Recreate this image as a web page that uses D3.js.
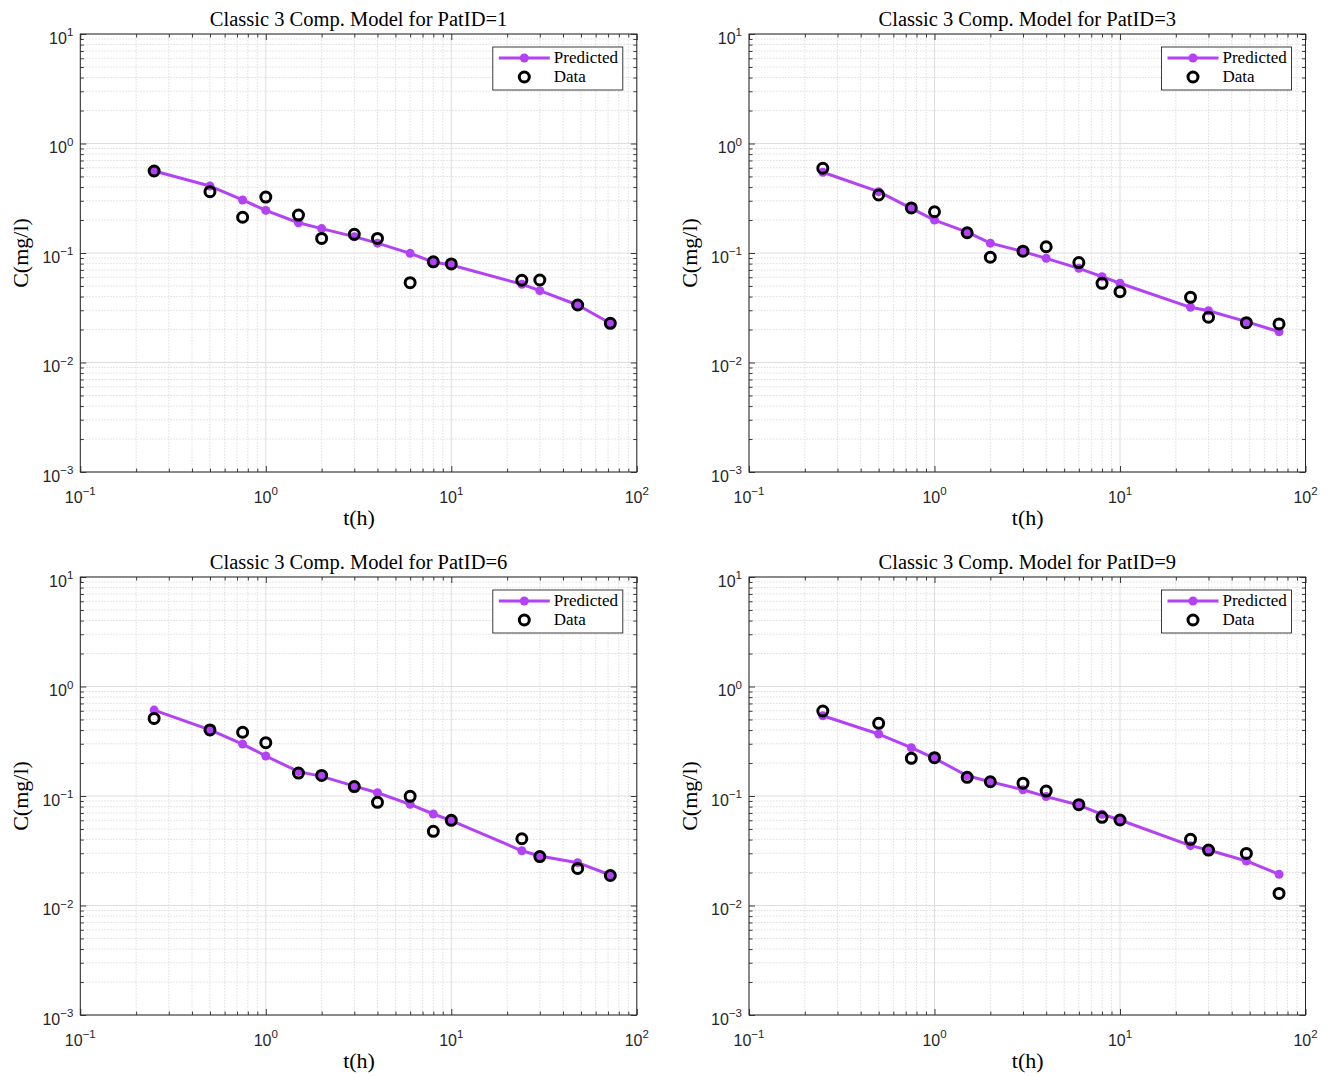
<!DOCTYPE html>
<html>
<head>
<meta charset="utf-8">
<script src="https://cdn.jsdelivr.net/npm/d3@7/dist/d3.min.js"></script>
<style>
  html, body { margin: 0; padding: 0; background: #fff; }
  svg { display: block; }
</style>
</head>
<body>
<svg id="chart" width="1333" height="1076"></svg>
<script>
// Sampling times (h)
const times = [0.25, 0.5, 0.75, 1, 1.5, 2, 3, 4, 6, 8, 10, 24, 30, 48, 72];

// Patient IDs shown
const patIds = [1, 3, 6, 9];

// Model predictions C(mg/l) per patient
const predP1 = [0.561, 0.409, 0.305, 0.245, 0.189, 0.167, 0.141, 0.123, 0.0993, 0.0827, 0.0777, 0.0518, 0.0453, 0.0335, 0.0228];
const predP3 = [0.546, 0.363, 0.256, 0.200, 0.155, 0.123, 0.103, 0.0894, 0.0724, 0.0608, 0.0529, 0.0319, 0.0297, 0.0236, 0.0191];
const predP6 = [0.609, 0.401, 0.298, 0.232, 0.167, 0.151, 0.123, 0.107, 0.0839, 0.0685, 0.0595, 0.0316, 0.0283, 0.0246, 0.0190];
const predP9 = [0.541, 0.368, 0.276, 0.221, 0.153, 0.135, 0.114, 0.0987, 0.0827, 0.0681, 0.0604, 0.0352, 0.0321, 0.0255, 0.0193];

// Observed concentrations C(mg/l) per patient
const obsP1 = [0.561, 0.363, 0.212, 0.324, 0.222, 0.136, 0.148, 0.136, 0.0536, 0.083, 0.0794, 0.0564, 0.0567, 0.0335, 0.0228];
const obsP3 = [0.594, 0.339, 0.258, 0.238, 0.153, 0.0914, 0.104, 0.114, 0.0817, 0.0529, 0.0443, 0.0394, 0.0259, 0.0231, 0.0225];
const obsP6 = [0.511, 0.401, 0.382, 0.307, 0.162, 0.154, 0.122, 0.0875, 0.0993, 0.0476, 0.060, 0.0407, 0.0280, 0.0218, 0.0188];
const obsP9 = [0.597, 0.461, 0.221, 0.224, 0.148, 0.135, 0.131, 0.111, 0.0834, 0.0639, 0.0604, 0.0402, 0.0321, 0.0299, 0.0129];

const predicted = [predP1, predP3, predP6, predP9];
const observed = [obsP1, obsP3, obsP6, obsP9];

// Axis ranges and tick exponents
const xDomain = [0.1, 100];
const yDomain = [0.001, 10];
const xTickExps = [-1, 0, 1, 2];
const yTickExps = [-3, -2, -1, 0, 1];

// Text
const titlePrefix = "Classic 3 Comp. Model for PatID=";
const xLabel = "t(h)";
const yLabel = "C(mg/l)";
const legendLabels = ["Predicted", "Data"];

// Layout
const panelW = 556.5, panelH = 438;
const panelPos = [[80.3, 34], [749, 34], [80.3, 577], [749, 577]];
const purple = "#b342f6";
const axisColor = "#262626";
const serif = "'Liberation Serif', 'DejaVu Serif', serif";
const sans = "'Liberation Sans', Arial, sans-serif";

const svg = d3.select("#chart");

function minorValues(domain) {
  const out = [];
  const e0 = Math.round(Math.log10(domain[0]));
  const e1 = Math.round(Math.log10(domain[1]));
  for (let e = e0; e < e1; e++) {
    for (let m = 2; m <= 9; m++) out.push(m * Math.pow(10, e));
  }
  return out;
}

// Exponent text with a true minus sign
const expText = e => String(e).replace("-", "\u2212");

function drawPanel(i) {
  const [left, top] = panelPos[i];
  const g = svg.append("g").attr("transform", `translate(${left},${top})`);
  const x = d3.scaleLog().domain(xDomain).range([0, panelW]);
  const y = d3.scaleLog().domain(yDomain).range([panelH, 0]);

  const xMajor = xTickExps.map(e => Math.pow(10, e));
  const yMajor = yTickExps.map(e => Math.pow(10, e));
  const xMinor = minorValues(xDomain);
  const yMinor = minorValues(yDomain);

  // Grid: minor dotted, major solid
  const grid = g.append("g");
  grid.selectAll(".xminor").data(xMinor).join("line")
    .attr("x1", d => x(d)).attr("x2", d => x(d))
    .attr("y1", 0).attr("y2", panelH)
    .attr("stroke", "#d6d6d6").attr("stroke-width", 0.8).attr("stroke-dasharray", "1.5,1.5");
  grid.selectAll(".yminor").data(yMinor).join("line")
    .attr("y1", d => y(d)).attr("y2", d => y(d))
    .attr("x1", 0).attr("x2", panelW)
    .attr("stroke", "#d6d6d6").attr("stroke-width", 0.8).attr("stroke-dasharray", "1.5,1.5");
  grid.selectAll(".xmajor").data(xMajor).join("line")
    .attr("x1", d => x(d)).attr("x2", d => x(d))
    .attr("y1", 0).attr("y2", panelH)
    .attr("stroke", "#dedede").attr("stroke-width", 1);
  grid.selectAll(".ymajor").data(yMajor).join("line")
    .attr("y1", d => y(d)).attr("y2", d => y(d))
    .attr("x1", 0).attr("x2", panelW)
    .attr("stroke", "#dedede").attr("stroke-width", 1);

  // Inward ticks on all four sides via d3 axes
  const mkX = (axisFn, vals, size) => axisFn(x).tickValues(vals).tickSize(size).tickFormat("");
  const mkY = (axisFn, vals, size) => axisFn(y).tickValues(vals).tickSize(size).tickFormat("");
  const tickGroups = [
    g.append("g").attr("transform", `translate(0,${panelH})`).call(mkX(d3.axisTop, xMajor, 6)),
    g.append("g").attr("transform", `translate(0,${panelH})`).call(mkX(d3.axisTop, xMinor, 3.5)),
    g.append("g").call(mkX(d3.axisBottom, xMajor, 6)),
    g.append("g").call(mkX(d3.axisBottom, xMinor, 3.5)),
    g.append("g").call(mkY(d3.axisRight, yMajor, 6)),
    g.append("g").call(mkY(d3.axisRight, yMinor, 3.5)),
    g.append("g").attr("transform", `translate(${panelW},0)`).call(mkY(d3.axisLeft, yMajor, 6)),
    g.append("g").attr("transform", `translate(${panelW},0)`).call(mkY(d3.axisLeft, yMinor, 3.5))
  ];
  tickGroups.forEach(tg => {
    tg.select(".domain").remove();
    tg.selectAll("line").attr("stroke", axisColor).attr("stroke-width", 0.9);
  });

  // Box
  g.append("rect").attr("x", 0).attr("y", 0).attr("width", panelW).attr("height", panelH)
    .attr("fill", "none").attr("stroke", axisColor).attr("stroke-width", 1);

  // Tick labels: 10 with superscript exponent
  xTickExps.forEach(e => {
    const t = g.append("text").attr("x", x(Math.pow(10, e))).attr("y", panelH + 31)
      .attr("text-anchor", "middle").attr("font-family", sans).attr("font-size", 16).attr("fill", axisColor);
    t.append("tspan").text("10");
    t.append("tspan").attr("dy", -8.5).attr("font-size", 11.5).text(expText(e));
  });
  yTickExps.forEach(e => {
    const t = g.append("text").attr("x", -7).attr("y", y(Math.pow(10, e)) + 9.5)
      .attr("text-anchor", "end").attr("font-family", sans).attr("font-size", 16).attr("fill", axisColor);
    t.append("tspan").text("10");
    t.append("tspan").attr("dy", -7.5).attr("font-size", 11.5).text(expText(e));
  });

  // Title and axis labels
  g.append("text").attr("x", panelW / 2).attr("y", -8).attr("text-anchor", "middle")
    .attr("font-family", serif).attr("font-size", 20.5).attr("fill", "#000")
    .text(titlePrefix + patIds[i]);
  g.append("text").attr("x", panelW / 2 + 0.5).attr("y", panelH + 53).attr("text-anchor", "middle")
    .attr("font-family", serif).attr("font-size", 22).attr("fill", "#000").text(xLabel);
  g.append("text").attr("transform", `translate(${-52},${panelH / 2}) rotate(-90)`)
    .attr("text-anchor", "middle").attr("font-family", serif).attr("font-size", 22)
    .attr("fill", "#000").text(yLabel);

  // Predicted line with markers
  const pts = times.map((t, k) => [t, predicted[i][k]]);
  const line = d3.line().x(d => x(d[0])).y(d => y(d[1]));
  g.append("path").datum(pts).attr("d", line).attr("fill", "none")
    .attr("stroke", purple).attr("stroke-width", 3).attr("stroke-linejoin", "round");
  g.selectAll(".pm").data(pts).join("circle")
    .attr("cx", d => x(d[0])).attr("cy", d => y(d[1])).attr("r", 4.5).attr("fill", purple);

  // Observed data as open circles
  const obs = times.map((t, k) => [t, observed[i][k]]);
  g.selectAll(".om").data(obs).join("circle")
    .attr("cx", d => x(d[0])).attr("cy", d => y(d[1])).attr("r", 5)
    .attr("fill", "none").attr("stroke", "#000").attr("stroke-width", 3);

  // Legend
  const lg = g.append("g").attr("transform", `translate(${panelW - 144},13)`);
  lg.append("rect").attr("width", 130).attr("height", 43).attr("fill", "#fff")
    .attr("stroke", axisColor).attr("stroke-width", 0.9);
  lg.append("line").attr("x1", 6).attr("x2", 57).attr("y1", 11).attr("y2", 11)
    .attr("stroke", purple).attr("stroke-width", 3);
  lg.append("circle").attr("cx", 31.5).attr("cy", 11).attr("r", 4.5).attr("fill", purple);
  lg.append("circle").attr("cx", 31.5).attr("cy", 30).attr("r", 5)
    .attr("fill", "none").attr("stroke", "#000").attr("stroke-width", 3);
  lg.append("text").attr("x", 61).attr("y", 16).attr("font-family", serif).attr("font-size", 17)
    .attr("fill", "#000").text(legendLabels[0]);
  lg.append("text").attr("x", 61).attr("y", 35).attr("font-family", serif).attr("font-size", 17)
    .attr("fill", "#000").text(legendLabels[1]);
}

patIds.forEach((_, i) => drawPanel(i));
</script>
</body>
</html>
